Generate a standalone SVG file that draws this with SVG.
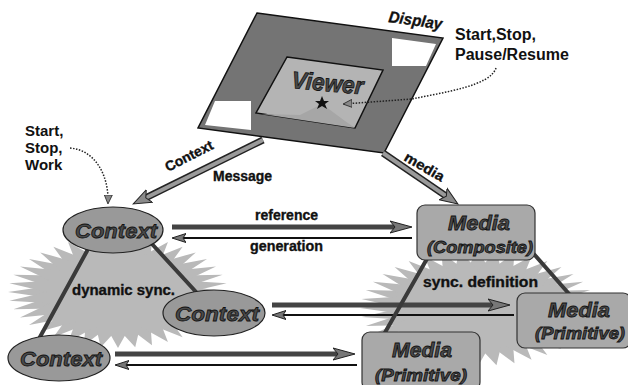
<svg xmlns="http://www.w3.org/2000/svg" xmlns:xlink="http://www.w3.org/1999/xlink" width="628" height="385" viewBox="0 0 628 385">
<style>
.lbl{font-family:"Liberation Sans",Arial,sans-serif;font-weight:bold;fill:#111}
.cnd{stroke:#111;stroke-width:0.35}
.big{font-family:"Liberation Sans",Arial,sans-serif;font-weight:bold;font-style:italic;fill:#4a4a4a;stroke:#111;stroke-width:0.8}
.node{fill:#999;stroke:#222;stroke-width:1.2}
.box{fill:#a9a9a9;stroke:#333;stroke-width:1.2}
.burst{fill:#b9b9b9}
.link{stroke:#3a3a3a;stroke-width:4;stroke-linecap:round}
.thick{stroke:#444;stroke-width:5;fill:none}
.thin{stroke:#111;stroke-width:2;fill:none}
.dot{stroke:#222;stroke-width:1.5;fill:none;stroke-dasharray:1.5 1.5}
.wideo{stroke:#222;stroke-width:7}
.widei{stroke:#9a9a9a;stroke-width:4}
</style>
<defs>
<polygon id="burst" points="1,0 .642,.1017 .9511,.309 .5791,.2951 .809,.5878 .4596,.4596 .5878,.809 .2951,.5791 .309,.9511 .1017,.642 0,1 -.1017,.642 -.309,.9511 -.2951,.5791 -.5878,.809 -.4596,.4596 -.809,.5878 -.5791,.2951 -.9511,.309 -.642,.1017 -1,0 -.642,-.1017 -.9511,-.309 -.5791,-.2951 -.809,-.5878 -.4596,-.4596 -.5878,-.809 -.2951,-.5791 -.309,-.9511 -.1017,-.642 0,-1 .1017,-.642 .309,-.9511 .2951,-.5791 .5878,-.809 .4596,-.4596 .809,-.5878 .5791,-.2951 .9511,-.309 .642,-.1017"/>
<marker id="hd" markerUnits="userSpaceOnUse" markerWidth="24" markerHeight="14" refX="12" refY="7" orient="auto"><path d="M0,1 L22,7 L0,13 L5,7 z" fill="#777" stroke="#222" stroke-width="1"/></marker>
<marker id="th" markerUnits="userSpaceOnUse" markerWidth="16" markerHeight="10" refX="4" refY="5" orient="auto-start-reverse"><path d="M0,0.5 L14,5 L0,9.5 L3,5 z" fill="#777" stroke="#222" stroke-width="1"/></marker>
<marker id="wh" markerUnits="userSpaceOnUse" markerWidth="20" markerHeight="16" refX="6" refY="8" orient="auto"><path d="M0,1 L18,8 L0,15 L4,8 z" fill="#8a8a8a" stroke="#222" stroke-width="1"/></marker>
<marker id="dh" markerUnits="userSpaceOnUse" markerWidth="10" markerHeight="10" refX="8" refY="5" orient="auto"><path d="M0,1 L9,5 L0,9 z" fill="#888" stroke="#222" stroke-width="0.8"/></marker>
</defs>

<g id="bursts">
<use xlink:href="#burst" class="burst" transform="translate(118,292) scale(110,56)"/>
<use xlink:href="#burst" class="burst" transform="translate(118,292) scale(110,56) rotate(9)"/>
<use xlink:href="#burst" class="burst" transform="translate(478,308) scale(118,58)"/>
<use xlink:href="#burst" class="burst" transform="translate(478,308) scale(118,58) rotate(9)"/>
</g>

<g id="display">
<polygon points="257,13 443,38 384,153 198,128" fill="#747474" stroke="#111" stroke-width="1.5"/>
<polygon points="392,38 436,44 426,66 392,66" fill="#fff"/>
<polygon points="215,101 251,101 251,130 205,125" fill="#fff"/>
<text class="lbl cnd" x="388" y="22" font-size="16" font-style="italic" textLength="54" lengthAdjust="spacingAndGlyphs" transform="rotate(8 388 22)">Display</text>
</g>

<g id="viewer">
<polygon points="287,57 383,70 355,128 256,113" fill="#b4b4b4" stroke="#111" stroke-width="1.5"/>
<polygon points="300,115 322,104 345,121 355,128 262,114" fill="#a6a6a6"/>
<text class="big" x="291" y="88" font-size="24" textLength="72" lengthAdjust="spacingAndGlyphs" transform="rotate(5 291 88)">Viewer</text>
<polygon points="322,96 324,101 329,101 325,104 327,109 322,106 317,109 319,104 315,101 320,101" fill="#111"/>
</g>

<g id="labels">
<text class="lbl" x="455" y="40" font-size="16">Start,Stop,</text>
<text class="lbl" x="455" y="60" font-size="16">Pause/Resume</text>
<text class="lbl" x="25" y="136" font-size="15">Start,</text>
<text class="lbl" x="25" y="153" font-size="15">Stop,</text>
<text class="lbl" x="25" y="170" font-size="15">Work</text>
<text class="lbl cnd" x="168" y="172" font-size="14" textLength="52" lengthAdjust="spacingAndGlyphs" transform="rotate(-27 168 172)">Context</text>
<text class="lbl cnd" x="213" y="181" font-size="14" textLength="59" lengthAdjust="spacingAndGlyphs">Message</text>
<text class="lbl cnd" x="403" y="160" font-size="14" textLength="44" lengthAdjust="spacingAndGlyphs" transform="rotate(30 403 160)">media</text>
<text class="lbl cnd" x="255" y="220" font-size="14" textLength="63" lengthAdjust="spacingAndGlyphs">reference</text>
<text class="lbl cnd" x="250" y="251" font-size="14" textLength="73" lengthAdjust="spacingAndGlyphs">generation</text>
<text class="lbl cnd" x="72" y="295" font-size="15" textLength="103" lengthAdjust="spacingAndGlyphs">dynamic sync.</text>
<text class="lbl cnd" x="423" y="287" font-size="14" textLength="115" lengthAdjust="spacingAndGlyphs">sync. definition</text>
</g>

<g id="connectors">
<path class="dot" d="M496,68 C490,86 445,92 412,99 L344,104" marker-end="url(#dh)"/>
<path class="dot" d="M70,148 C95,150 109,175 108,203" marker-end="url(#dh)"/>
<line class="wideo" x1="263" y1="140" x2="144" y2="198.7"/>
<line class="widei" x1="263" y1="140" x2="144" y2="198.7" marker-end="url(#wh)"/>
<line class="wideo" x1="383" y1="153" x2="448" y2="197.3"/>
<line class="widei" x1="383" y1="153" x2="448" y2="197.3" marker-end="url(#wh)"/>
<line class="thick" x1="172" y1="227" x2="402" y2="227" marker-end="url(#hd)"/>
<line class="thin" x1="182" y1="238" x2="412" y2="238" marker-start="url(#th)"/>
<line class="thick" x1="272" y1="305" x2="500" y2="305" marker-end="url(#hd)"/>
<line class="thin" x1="282" y1="315" x2="514" y2="315" marker-start="url(#th)"/>
<line class="thick" x1="115" y1="354" x2="345" y2="354" marker-end="url(#hd)"/>
<line class="thin" x1="125" y1="365" x2="357" y2="365" marker-start="url(#th)"/>
<line class="link" x1="87" y1="251" x2="40" y2="337"/>
<line class="link" x1="152" y1="244" x2="197" y2="293"/>
<line class="link" x1="428" y1="257" x2="383" y2="336"/>
<line class="link" x1="533" y1="253" x2="570" y2="295"/>
</g>

<g id="context1">
<ellipse class="node" cx="113" cy="230" rx="50" ry="23"/>
<text class="big" x="75" y="238" font-size="21" textLength="82" lengthAdjust="spacingAndGlyphs">Context</text>
</g>
<g id="context2">
<ellipse class="node" cx="214" cy="313" rx="51" ry="23"/>
<text class="big" x="175" y="321" font-size="21" textLength="84" lengthAdjust="spacingAndGlyphs">Context</text>
</g>
<g id="context3">
<ellipse class="node" cx="59" cy="358" rx="51" ry="23"/>
<text class="big" x="20" y="366" font-size="21" textLength="82" lengthAdjust="spacingAndGlyphs">Context</text>
</g>

<g id="media-composite">
<rect class="box" x="417" y="205" width="118" height="55" rx="8"/>
<text class="big" x="448" y="230" font-size="20" textLength="62" lengthAdjust="spacingAndGlyphs">Media</text>
<text class="big" x="427" y="253" font-size="17" textLength="106" lengthAdjust="spacingAndGlyphs">(Composite)</text>
</g>
<g id="media-primitive-right">
<rect class="box" x="517" y="293" width="114" height="55" rx="8"/>
<text class="big" x="548" y="317" font-size="20" textLength="62" lengthAdjust="spacingAndGlyphs">Media</text>
<text class="big" x="535" y="339" font-size="17" textLength="90" lengthAdjust="spacingAndGlyphs">(Primitive)</text>
</g>
<g id="media-primitive-bottom">
<rect class="box" x="362" y="332" width="118" height="58" rx="8"/>
<text class="big" x="392" y="357" font-size="20" textLength="60" lengthAdjust="spacingAndGlyphs">Media</text>
<text class="big" x="375" y="381" font-size="17" textLength="92" lengthAdjust="spacingAndGlyphs">(Primitive)</text>
</g>
</svg>
